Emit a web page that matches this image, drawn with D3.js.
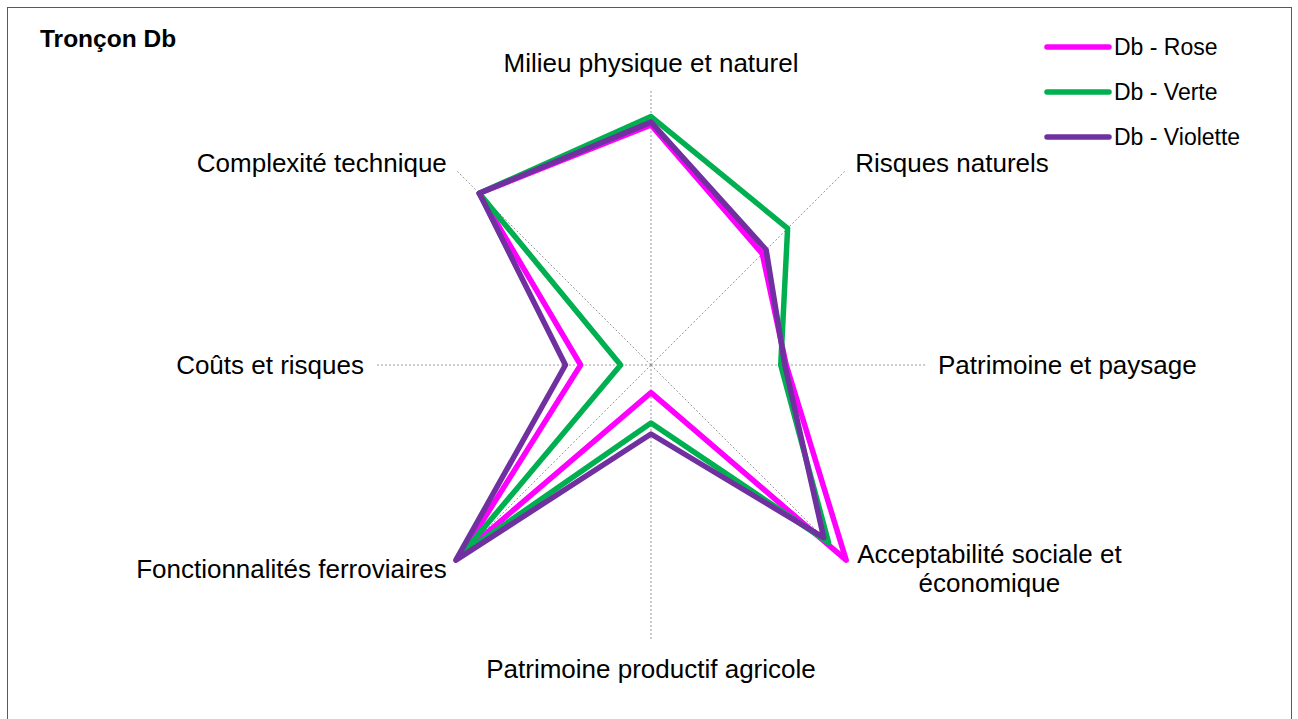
<!DOCTYPE html>
<html>
<head>
<meta charset="utf-8">
<script src="https://cdn.jsdelivr.net/npm/d3@7"></script>
<style>
  html, body { margin: 0; padding: 0; background: #fff; }
  svg { display: block; font-family: "Liberation Sans", Arial, sans-serif; }
</style>
</head>
<body>
<svg id="chart" width="1298" height="719"></svg>
<script>
// Criteria, clockwise from the top
const axes = [
  ["Milieu physique et naturel"],
  ["Risques naturels"],
  ["Patrimoine et paysage"],
  ["Acceptabilité sociale et", "économique"],
  ["Patrimoine productif agricole"],
  ["Fonctionnalités ferroviaires"],
  ["Coûts et risques"],
  ["Complexité technique"]
];

// Scores per variant (0–100)
const seriesNames = ["Db - Rose", "Db - Verte", "Db - Violette"];
const rose     = [87, 57, 49,   100,  10, 97, 25.5, 88];
const verte    = [90, 70, 47,   91,   21, 97, 11,   88];
const violette = [88, 59, 48.5, 88.5, 25, 100, 31,  88];
const seriesColors = ["#ff00ff", "#00b050", "#7030a0"];

const title = "Tronçon Db";

const svg = d3.select("#chart");
const cx = 651, cy = 365, R = 276;

// frame
svg.append("rect")
  .attr("x", 7.5).attr("y", 7.5)
  .attr("width", 1284).attr("height", 730)
  .attr("fill", "#fff").attr("stroke", "#595959").attr("stroke-width", 1);

const n = axes.length;
const angle = d3.scaleLinear().domain([0, n]).range([0, 2 * Math.PI]);
const r = d3.scaleLinear().domain([0, 100]).range([0, R]);

// spokes
svg.append("g").selectAll("line").data(axes).join("line")
  .attr("x1", cx).attr("y1", cy)
  .attr("x2", (d, i) => cx + R * Math.sin(angle(i)))
  .attr("y2", (d, i) => cy - R * Math.cos(angle(i)))
  .attr("stroke", "#999").attr("stroke-width", 1)
  .attr("stroke-dasharray", "2,2");

// axis labels
const labelG = svg.append("g").attr("font-size", 26).attr("fill", "#000");
axes.forEach((lines, i) => {
  const a = angle(i);
  const s = Math.sin(a), c = Math.cos(a);
  const ex = cx + R * s, ey = cy - R * c;
  const t = labelG.append("text").attr("dominant-baseline", "central");
  const lh = 29;
  lines.forEach((ln, k) => {
    t.append("tspan").text(ln).attr("dy", k === 0 ? 0 : lh);
  });
  if (Math.abs(s) < 0.01) {
    // top / bottom
    t.attr("text-anchor", "middle").attr("y", c > 0 ? ey - 26 : ey + 28);
    t.selectAll("tspan").attr("x", ex);
  } else if (Math.abs(c) < 0.01) {
    // left / right
    t.attr("text-anchor", s > 0 ? "start" : "end").attr("y", ey);
    t.selectAll("tspan").attr("x", s > 0 ? ex + 11 : ex - 11);
  } else if (lines.length > 1) {
    // wrapped block: centred lines, left edge beside the spoke end
    const widths = [];
    t.selectAll("tspan").each(function () { widths.push(this.getComputedTextLength()); });
    const w = d3.max(widths);
    const left = s > 0 ? ex + 11 : ex - 11 - w;
    const blockMid = ey + 8;
    t.attr("text-anchor", "middle").attr("y", blockMid - (lines.length - 1) * lh / 2);
    t.selectAll("tspan").attr("x", left + w / 2);
  } else {
    t.attr("text-anchor", s > 0 ? "start" : "end").attr("y", c > 0 ? ey - 7 : ey + 9);
    t.selectAll("tspan").attr("x", s > 0 ? ex + 9 : ex - 9);
  }
});

// series polygons
const line = d3.lineRadial()
  .angle((d, i) => angle(i))
  .radius(d => r(d))
  .curve(d3.curveLinearClosed);

const series = [rose, verte, violette];
const plot = svg.append("g").attr("transform", `translate(${cx},${cy})`);
series.forEach((vals, k) => {
  plot.append("path")
    .attr("d", line(vals))
    .attr("fill", "none")
    .attr("stroke", seriesColors[k])
    .attr("stroke-width", 5.5)
    .attr("stroke-linejoin", "round")
    .attr("stroke-linecap", "round");
});

// title
svg.append("text")
  .attr("x", 40).attr("y", 47)
  .attr("font-size", 24.5).attr("font-weight", "bold")
  .text(title);

// legend
const lg = svg.append("g");
seriesNames.forEach((name, k) => {
  const y = 47 + k * 45;
  lg.append("line")
    .attr("x1", 1047).attr("x2", 1109)
    .attr("y1", y).attr("y2", y)
    .attr("stroke", seriesColors[k]).attr("stroke-width", 5.5)
    .attr("stroke-linecap", "round");
  lg.append("text")
    .attr("x", 1114).attr("y", y)
    .attr("dominant-baseline", "central")
    .attr("font-size", 23)
    .text(name);
});
</script>
</body>
</html>
